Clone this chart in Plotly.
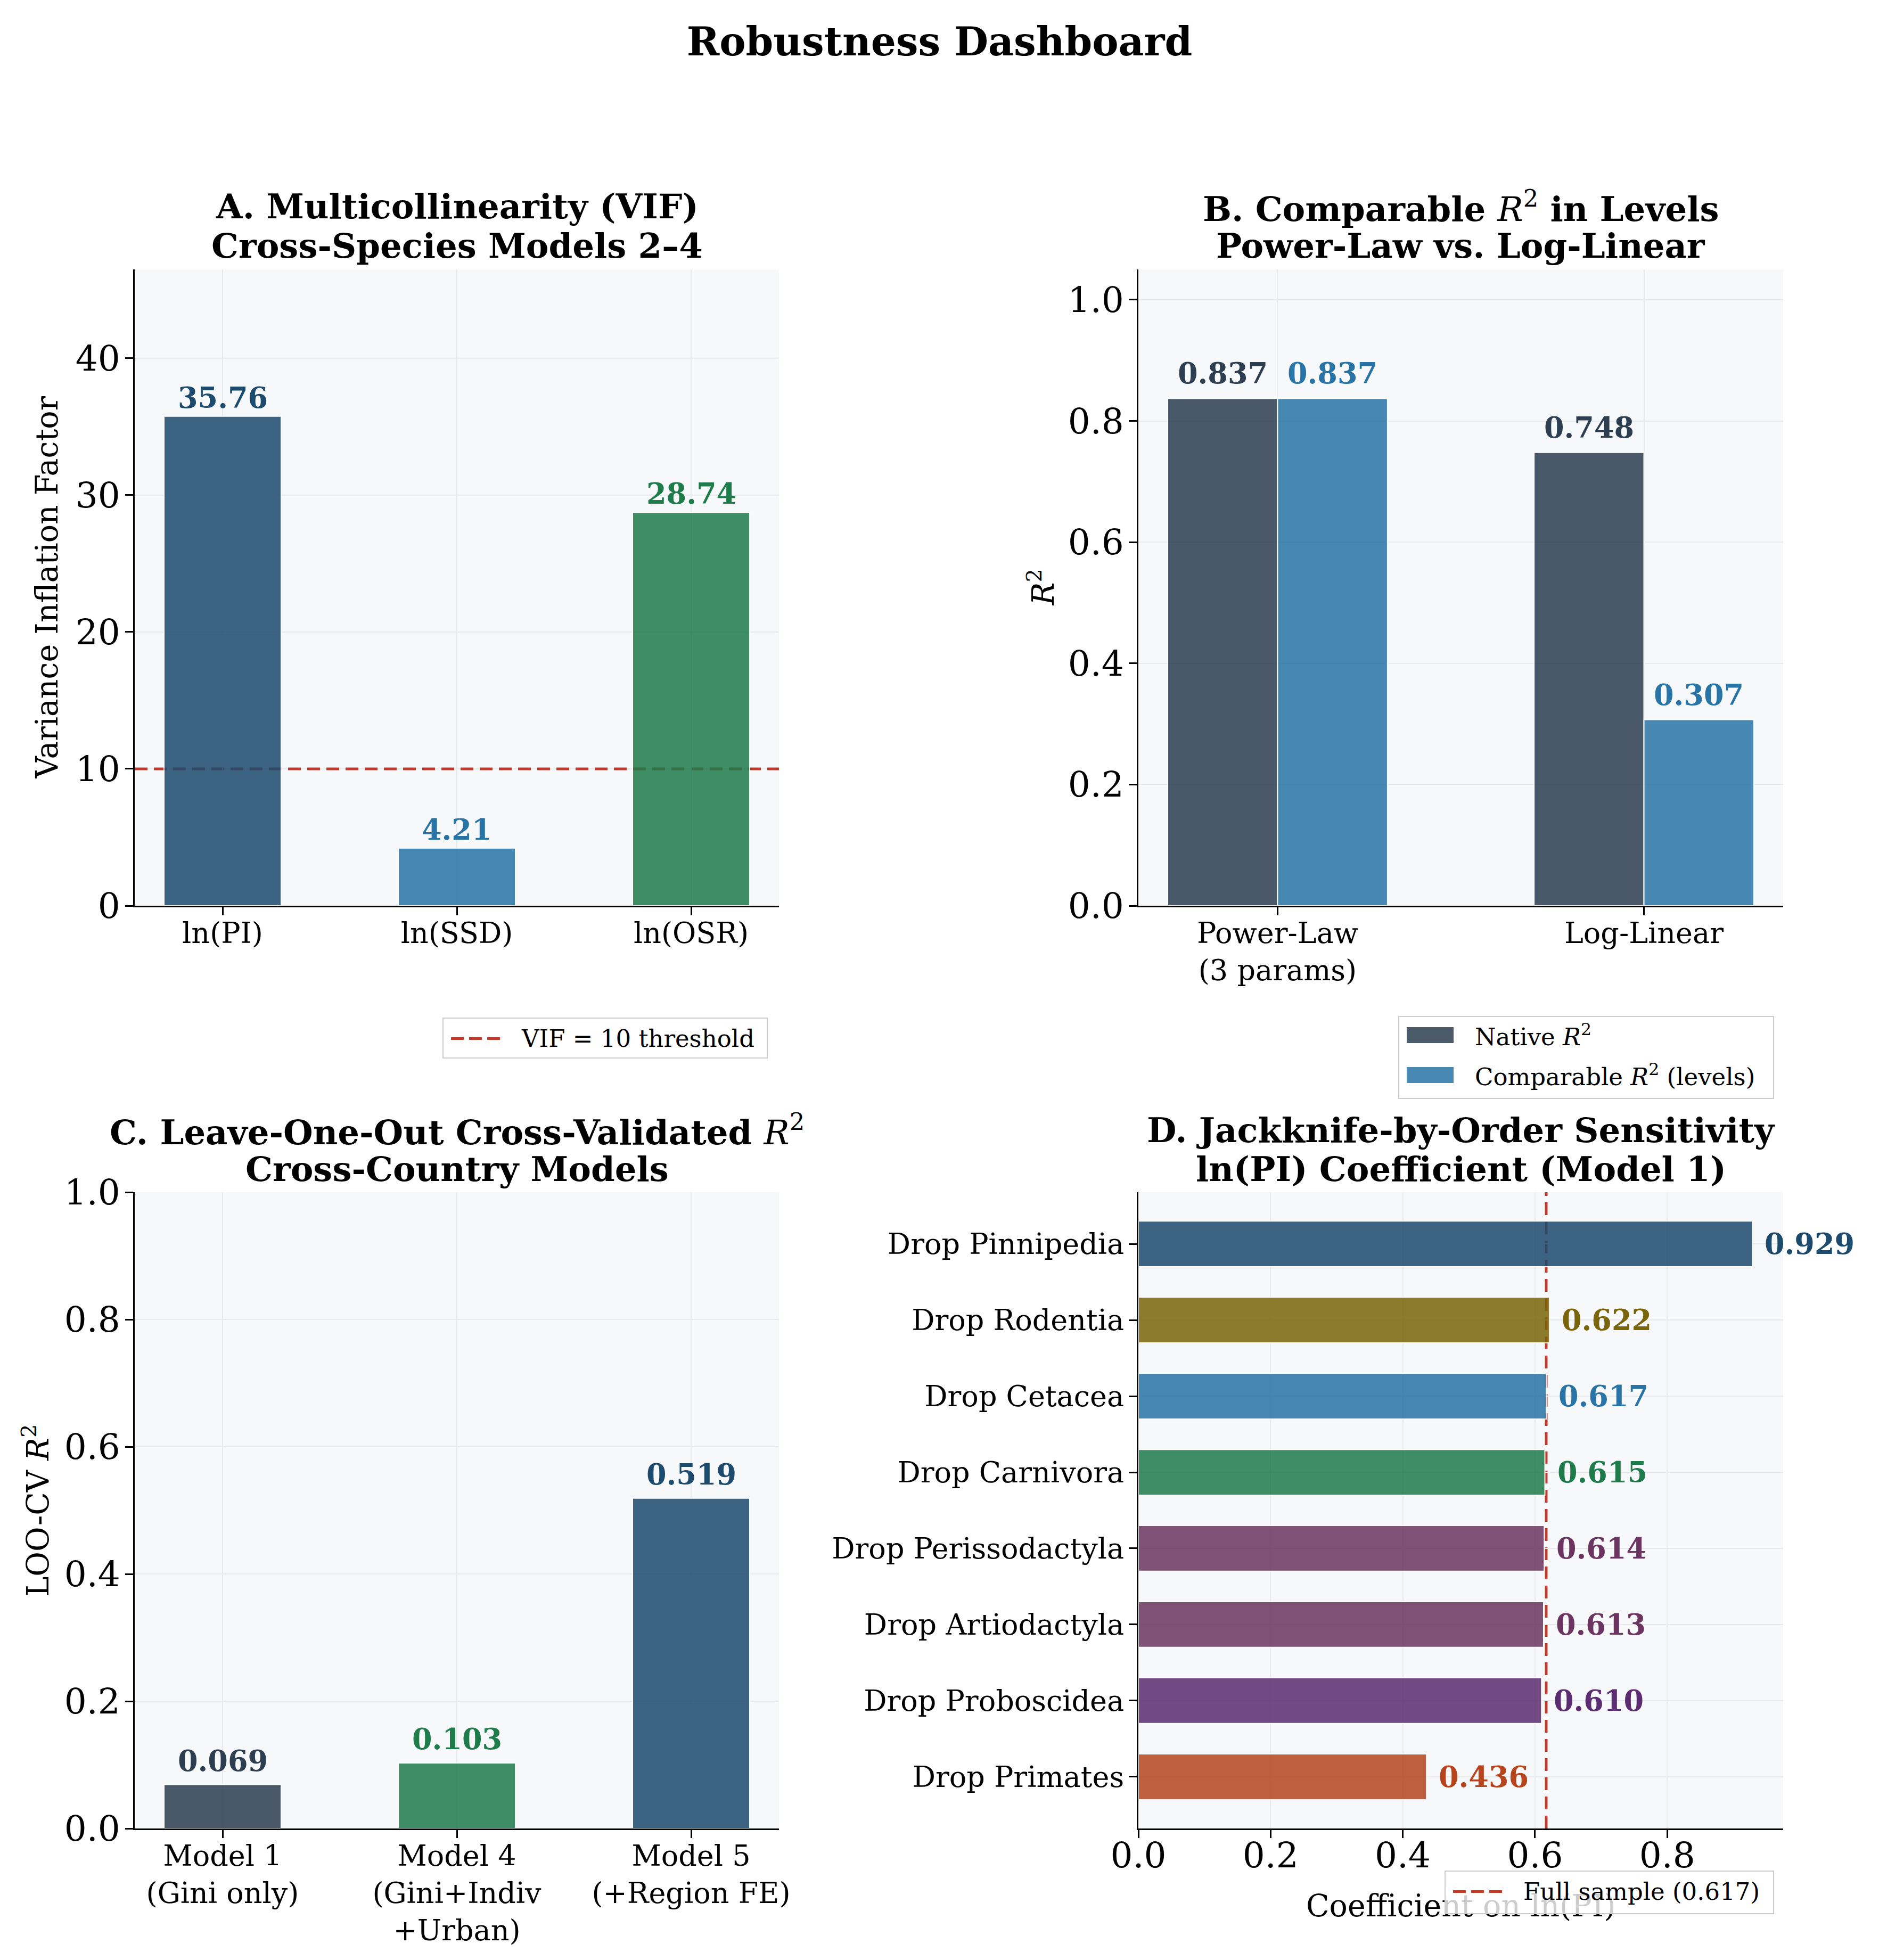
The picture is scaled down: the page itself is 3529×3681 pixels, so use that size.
import plotly.graph_objects as go

FONT = "DejaVu Serif"
BG = "#f7f8fa"
GRID = "#e7e9ec"
W, H = 3529, 3681

# ---------------- data ----------------
# Panel A: VIF
vif_vars = ["ln(PI)", "ln(SSD)", "ln(OSR)"]
vif_vals = [35.76, 4.21, 28.74]
vif_colors = ["#1c4b6e", "#2874a6", "#1e7b4a"]
vif_threshold = 10
vif_ticks = [0, 10, 20, 30, 40]

# Panel B: comparable R2
r2_models = ["Power-Law<br>(3 params)", "Log-Linear"]
r2_native = [0.837, 0.748]
r2_comparable = [0.837, 0.307]
r2_native_color = "#2c3e50"
r2_comp_color = "#2874a6"

# Panel C: LOO-CV R2
loo_models = ["Model 1<br>(Gini only)", "Model 4<br>(Gini+Indiv<br>+Urban)", "Model 5<br>(+Region FE)"]
loo_vals = [0.069, 0.103, 0.519]
loo_colors = ["#2c3e50", "#1e7b4a", "#1c4b6e"]

# Panel D: jackknife by order
jk_orders = ["Drop Pinnipedia", "Drop Rodentia", "Drop Cetacea", "Drop Carnivora",
             "Drop Perissodactyla", "Drop Artiodactyla", "Drop Proboscidea", "Drop Primates"]
jk_vals = [0.929, 0.622, 0.617, 0.615, 0.614, 0.613, 0.610, 0.436]
jk_colors = ["#1c4b6e", "#7a650a", "#2874a6", "#1e7b4a", "#6c3461", "#6c3461", "#5b2c6f", "#b6451e"]
full_sample = 0.617
RED = "#c0392b"
ALPHA = 0.85

# ---------------- layout geometry (pixels) ----------------
def px_x(p):
    return p / W

def px_y(p):
    return 1 - p / H

def rgba(hexc, a):
    h = hexc.lstrip("#")
    return f"rgba({int(h[0:2], 16)},{int(h[2:4], 16)},{int(h[4:6], 16)},{a})"

colL = [px_x(253), px_x(1463)]
colR = [px_x(2138), px_x(3349)]
rowT = [px_y(1701), px_y(506)]
rowB = [px_y(3434), px_y(2239)]

cat_range3 = [-0.375, 2.375]

fig = go.Figure()

bar_line = dict(color="white", width=2)
# Panel A
fig.add_trace(go.Bar(x=vif_vars, y=vif_vals, width=0.5, marker=dict(color=vif_colors, line=bar_line),
                     opacity=ALPHA, showlegend=False, xaxis="x", yaxis="y"))
# Panel B
xb = list(range(len(r2_models)))
fig.add_trace(go.Bar(x=xb, y=r2_native, width=0.3, offset=-0.3, marker=dict(color=r2_native_color, line=bar_line),
                     opacity=ALPHA, showlegend=False, xaxis="x2", yaxis="y2"))
fig.add_trace(go.Bar(x=xb, y=r2_comparable, width=0.3, offset=0.0, marker=dict(color=r2_comp_color, line=bar_line),
                     opacity=ALPHA, showlegend=False, xaxis="x2", yaxis="y2"))
# Panel C
fig.add_trace(go.Bar(x=loo_models, y=loo_vals, width=0.5, marker=dict(color=loo_colors, line=bar_line),
                     opacity=ALPHA, showlegend=False, xaxis="x3", yaxis="y3"))
# Panel D
fig.add_trace(go.Bar(y=jk_orders, x=jk_vals, orientation="h", width=0.6, marker=dict(color=jk_colors, line=bar_line),
                     opacity=ALPHA, showlegend=False, xaxis="x4", yaxis="y4"))

# Panel A horizontal gridlines drawn as shapes so the threshold line can sit above them
for tv in vif_ticks[1:]:
    fig.add_shape(type="line", xref="x", yref="y", x0=cat_range3[0], x1=cat_range3[1], y0=tv, y1=tv,
                  line=dict(color=GRID, width=2), layer="below")
# reference lines (under the semi-transparent bars)
fig.add_shape(type="line", xref="x", yref="y", x0=cat_range3[0], x1=cat_range3[1], y0=vif_threshold, y1=vif_threshold,
              line=dict(color=RED, width=5, dash="24px,12px"), layer="below")
fig.add_shape(type="line", xref="x4", yref="y4 domain", x0=full_sample, x1=full_sample, y0=0, y1=1,
              line=dict(color=RED, width=5, dash="24px,12px"), layer="below")

# ---------------- axes ----------------
def axis(domain, anchor, **kw):
    d = dict(domain=domain, anchor=anchor, showline=True, linecolor="black", linewidth=3,
             ticks="outside", ticklen=15, tickwidth=3, tickcolor="black",
             showgrid=True, gridcolor=GRID, gridwidth=2, zeroline=False, automargin=False,
             tickfont=dict(family=FONT, size=66, color="black"), ticklabelstandoff=-4)
    d.update(kw)
    return d

cat_font = dict(family=FONT, size=54, color="black")
fig.update_layout(
    xaxis=axis(colL, "y", range=cat_range3, tickfont=cat_font, ticklabelstandoff=-13),
    yaxis=axis(rowT, "x", range=[0, max(vif_vals) * 1.3], tickvals=vif_ticks, showgrid=False),
    xaxis2=axis(colR, "y2", range=[-0.38, 1.38], tickvals=xb, ticktext=r2_models, tickfont=cat_font,
                ticklabelstandoff=-13),
    yaxis2=axis(rowT, "x2", range=[0, 1.05], tickvals=[0, 0.2, 0.4, 0.6, 0.8, 1.0], tickformat=".1f"),
    xaxis3=axis(colL, "y3", range=cat_range3, tickfont=cat_font, ticklabelstandoff=-13),
    yaxis3=axis(rowB, "x3", range=[0, 1.0], tickvals=[0, 0.2, 0.4, 0.6, 0.8, 1.0], tickformat=".1f"),
    xaxis4=axis(colR, "y4", range=[0, max(jk_vals) * 1.05], tickvals=[0, 0.2, 0.4, 0.6, 0.8], tickformat=".1f",
                ticklabelstandoff=-24),
    yaxis4=axis(rowB, "x4", range=[7.68, -0.68], tickfont=cat_font, ticklabelstandoff=-2),
)

# ---------------- annotations ----------------
ann = []

def title_lines(cx, l1, l2, y1, y2):
    for t, yy in ((l1, y1), (l2, y2)):
        ann.append(dict(text=t, x=cx, y=px_y(yy), xref="paper", yref="paper", xanchor="center", yanchor="middle",
                        showarrow=False, font=dict(family=FONT, size=64, color="black")))

cxL = (colL[0] + colL[1]) / 2
cxR = (colR[0] + colR[1]) / 2
title_lines(cxL, "<b>A. Multicollinearity (VIF)</b>", "<b>Cross-Species Models 2–4</b>", 388, 461)
title_lines(cxR, "<b>B. Comparable </b><i>R</i><sup>2</sup><b> in Levels</b>", "<b>Power-Law vs. Log-Linear</b>", 388, 461)
title_lines(cxL, "<b>C. Leave-One-Out Cross-Validated </b><i>R</i><sup>2</sup>", "<b>Cross-Country Models</b>", 2122, 2195)
title_lines(cxR, "<b>D. Jackknife-by-Order Sensitivity</b>", "<b>ln(PI) Coefficient (Model 1)</b>", 2122, 2195)

def ylabel(text, xpix, row):
    ann.append(dict(text=text, x=px_x(xpix), y=(row[0] + row[1]) / 2, xref="paper", yref="paper",
                    xanchor="center", yanchor="middle", textangle=-90, showarrow=False,
                    font=dict(family=FONT, size=57, color="black")))

ylabel("Variance Inflation Factor", 87, rowT)
ylabel("<i>R</i><sup>2</sup>", 1955, rowT)
ylabel("LOO-CV <i>R</i><sup>2</sup>", 67, rowB)
ann.append(dict(text="Coefficient on ln(PI)", x=cxR, y=px_y(3579), xref="paper", yref="paper",
                xanchor="center", yanchor="middle", showarrow=False, font=dict(family=FONT, size=57, color="black")))

lab_font = lambda c: dict(family=FONT, size=54, color=c)
for v, val, c in zip(vif_vars, vif_vals, vif_colors):
    ann.append(dict(text=f"<b>{val:.2f}</b>", x=v, y=val, xref="x", yref="y", xanchor="center", yanchor="bottom",
                    yshift=1, showarrow=False, font=lab_font(c)))
for i in xb:
    ann.append(dict(text=f"<b>{r2_native[i]:.3f}</b>", x=i - 0.15, y=r2_native[i], xref="x2", yref="y2",
                    xanchor="center", yanchor="bottom", yshift=13, showarrow=False, font=lab_font(r2_native_color)))
    ann.append(dict(text=f"<b>{r2_comparable[i]:.3f}</b>", x=i + 0.15, y=r2_comparable[i], xref="x2", yref="y2",
                    xanchor="center", yanchor="bottom", yshift=13, showarrow=False, font=lab_font(r2_comp_color)))
for m, val, c in zip(loo_models, loo_vals, loo_colors):
    ann.append(dict(text=f"<b>{val:.3f}</b>", x=m, y=val, xref="x3", yref="y3", xanchor="center", yanchor="bottom",
                    yshift=11, showarrow=False, font=lab_font(c)))
for o, val, c in zip(jk_orders, jk_vals, jk_colors):
    ann.append(dict(text=f"<b>{val:.3f}</b>", x=val, y=o, xref="x4", yref="y4", xanchor="left", yanchor="middle",
                    xshift=21, showarrow=False, font=lab_font(c)))

# ---------------- legends (drawn as annotation boxes, on top of everything) ----------------
def box(x0, y0, x1, y1, fill, border=None, bw=0):
    ann.append(dict(text=" ", x=px_x(x0), y=px_y(y0), xref="paper", yref="paper", xanchor="left", yanchor="top",
                    width=x1 - x0 - 2 * bw, height=y1 - y0 - 2 * bw, borderpad=0, bgcolor=fill,
                    bordercolor=border if border else "rgba(0,0,0,0)", borderwidth=bw, showarrow=False,
                    font=dict(size=2)))

def legend(x0, y0, x1, y1, entries):
    box(x0, y0, x1, y1, "rgba(255,255,255,0.8)", "#cccccc", 2)
    for kind, color, text, yc in entries:
        sx = x0 + 16
        if kind == "line":
            for k in range(3):
                box(sx + k * 34, yc - 2.5, sx + k * 34 + 24, yc + 2.5, color)
            tx = sx + 130
        else:
            box(sx, yc - 15, sx + 88, yc + 15, rgba(color, ALPHA))
            tx = sx + 126
        ann.append(dict(text=text, x=px_x(tx), y=px_y(yc), xref="paper", yref="paper", xanchor="left",
                        yanchor="middle", showarrow=False, font=dict(family=FONT, size=45, color="black")))

legend(831, 1911, 1442, 1988, [("line", RED, f"VIF = {vif_threshold} threshold", 1950)])
legend(2626, 1908, 3332, 2064, [("patch", r2_native_color, "Native <i>R</i><sup>2</sup>", 1944),
                                ("patch", r2_comp_color, "Comparable <i>R</i><sup>2</sup> (levels)", 2019)])
legend(2713, 3513, 3332, 3595, [("line", RED, f"Full sample ({full_sample:.3f})", 3552)])

fig.update_layout(
    width=W, height=H, autosize=False,
    margin=dict(l=0, r=0, t=0, b=0, pad=0),
    paper_bgcolor="white", plot_bgcolor=BG,
    barmode="overlay", showlegend=False,
    title=dict(text="<b>Robustness Dashboard</b>", x=0.5, y=px_y(78), xanchor="center", yanchor="middle",
               font=dict(family=FONT, size=74, color="black")),
    annotations=ann,
    font=dict(family=FONT),
)

fig.write_html("out.html", config={"displayModeBar": False},
               post_script="document.body.style.margin='0';document.body.style.overflow='hidden';")
